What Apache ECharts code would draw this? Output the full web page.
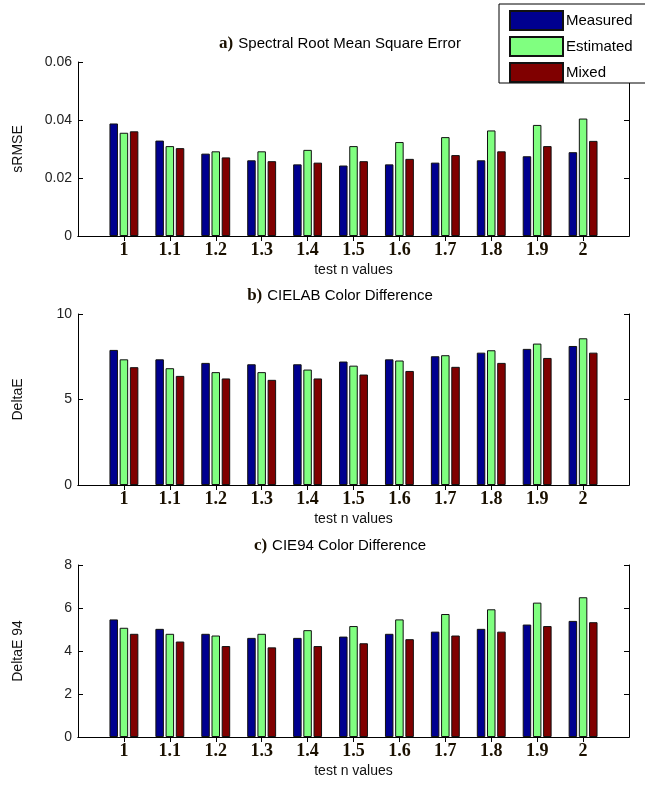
<!DOCTYPE html>
<html>
<head>
<meta charset="utf-8">
<script src="https://cdn.jsdelivr.net/npm/echarts@6/dist/echarts.min.js"></script>
<style>
html, body { margin: 0; padding: 0; background: #fff; }
#main { width: 645px; height: 789px; }
</style>
</head>
<body>
<div id="main"></div>
<script>
// test n values
var categories = ['1', '1.1', '1.2', '1.3', '1.4', '1.5', '1.6', '1.7', '1.8', '1.9', '2'];
var seriesNames = ['Measured', 'Estimated', 'Mixed'];

// a) sRMSE
var srmseMeasured  = [0.0388, 0.0329, 0.0284, 0.0261, 0.0247, 0.0243, 0.0247, 0.0253, 0.0261, 0.0275, 0.0289];
var srmseEstimated = [0.0356, 0.0310, 0.0292, 0.0292, 0.0297, 0.0310, 0.0324, 0.0341, 0.0364, 0.0383, 0.0405];
var srmseMixed     = [0.0361, 0.0303, 0.0271, 0.0258, 0.0253, 0.0258, 0.0266, 0.0279, 0.0292, 0.0310, 0.0328];
var srmseTicks = [0, 0.02, 0.04, 0.06];

// b) CIELAB DeltaE
var labMeasured  = [7.90, 7.35, 7.14, 7.06, 7.06, 7.22, 7.35, 7.53, 7.74, 7.96, 8.13];
var labEstimated = [7.35, 6.83, 6.60, 6.60, 6.75, 6.98, 7.28, 7.59, 7.88, 8.27, 8.58];
var labMixed     = [6.89, 6.38, 6.23, 6.15, 6.23, 6.46, 6.67, 6.91, 7.14, 7.43, 7.74];
var labTicks = [0, 5, 10];

// c) CIE94 DeltaE
var cie94Measured  = [5.47, 5.03, 4.80, 4.61, 4.61, 4.67, 4.80, 4.90, 5.03, 5.23, 5.40];
var cie94Estimated = [5.08, 4.80, 4.72, 4.80, 4.97, 5.16, 5.47, 5.72, 5.94, 6.25, 6.50];
var cie94Mixed     = [4.80, 4.44, 4.23, 4.17, 4.23, 4.36, 4.55, 4.72, 4.90, 5.16, 5.34];
var cie94Ticks = [0, 2, 4, 6, 8];

var colors = ['#00008f', '#80ff80', '#800000'];

// matlab puts bar groups at 1..n with xlim [0, n+1]: pad both ends
function pad(arr, v) { return [v].concat(arr, [v]); }
var padCats = pad(categories, '');

var panels = [
  { title: 'Spectral Root Mean Square Error', tag: 'a)', yName: 'sRMSE', ticks: srmseTicks, data: [srmseMeasured, srmseEstimated, srmseMixed], top: 62, height: 174, titleTop: 35 },
  { title: 'CIELAB Color Difference', tag: 'b)', yName: 'DeltaE', ticks: labTicks, data: [labMeasured, labEstimated, labMixed], top: 314, height: 171, titleTop: 287 },
  { title: 'CIE94 Color Difference', tag: 'c)', yName: 'DeltaE 94', ticks: cie94Ticks, data: [cie94Measured, cie94Estimated, cie94Mixed], top: 565, height: 172, titleTop: 537 }
];

var axisColor = '#000';
var tickInside = function (idx) { return idx > 0 && idx < padCats.length - 1; };

var option = {
  animation: false,
  backgroundColor: '#fff',
  title: [],
  grid: [],
  xAxis: [],
  yAxis: [],
  series: [],
  legend: {
    orient: 'vertical',
    left: 499,
    top: 4,
    icon: 'rect',
    itemWidth: 53,
    itemHeight: 19,
    itemGap: 5,
    padding: [6, 30, 0, 10],
    backgroundColor: '#fff',
    borderColor: '#000',
    borderWidth: 1,
    borderRadius: 0,
    textStyle: { fontFamily: 'Liberation Sans', fontSize: 15, color: '#000', padding: [0, 0, 0, -2] },
    data: seriesNames
  }
};

panels.forEach(function (p, gi) {
  var tks = p.ticks;
  option.title.push({
    text: '{tag|' + p.tag + '} {txt|' + p.title + '}',
    left: 340,
    top: p.titleTop,
    textAlign: 'center',
    padding: 0,
    textStyle: {
      fontWeight: 'normal',
      rich: {
        tag: { fontFamily: 'Liberation Serif', fontWeight: 'bold', fontSize: 17, color: '#1a1000' },
        txt: { fontFamily: 'Liberation Sans', fontWeight: 'normal', fontSize: 15, color: '#000' }
      }
    }
  });
  option.grid.push({ left: 78, top: p.top, width: 551, height: p.height });
  option.xAxis.push({
    type: 'category',
    gridIndex: gi,
    data: padCats,
    boundaryGap: false,
    position: 'bottom',
    axisLine: { lineStyle: { color: axisColor, width: 1 } },
    axisTick: { inside: true, length: 5, interval: tickInside, lineStyle: { color: axisColor } },
    axisLabel: {
      interval: 0, margin: 5,
      fontFamily: 'Liberation Serif', fontWeight: 'bold', fontSize: 18, color: '#1a1000'
    },
    name: 'test n values',
    nameLocation: 'middle',
    nameGap: 27,
    nameTextStyle: { fontFamily: 'Liberation Sans', fontSize: 14, color: '#111' },
    splitLine: { show: false }
  });
  option.xAxis.push({
    type: 'category',
    gridIndex: gi,
    data: padCats,
    boundaryGap: false,
    position: 'top',
    axisLine: { lineStyle: { color: axisColor, width: 1 } },
    axisTick: { inside: true, length: 5, interval: tickInside, lineStyle: { color: axisColor } },
    axisLabel: { show: false },
    splitLine: { show: false }
  });
  var yBase = {
    type: 'value',
    gridIndex: gi,
    min: tks[0],
    max: tks[tks.length - 1],
    interval: tks[1] - tks[0],
    axisLine: { show: true, lineStyle: { color: axisColor, width: 1 } },
    axisTick: { show: true, inside: true, length: 5, lineStyle: { color: axisColor } },
    splitLine: { show: false }
  };
  option.yAxis.push(Object.assign({}, yBase, {
    position: 'left',
    axisLabel: { margin: 6, fontFamily: 'Liberation Sans', fontSize: 14, color: '#222' },
    name: p.yName,
    nameLocation: 'middle',
    nameGap: 53,
    nameTextStyle: { fontFamily: 'Liberation Sans', fontSize: 14, color: '#111' }
  }));
  option.yAxis.push(Object.assign({}, yBase, {
    position: 'right',
    axisLabel: { show: false }
  }));
  p.data.forEach(function (vals, si) {
    option.series.push({
      name: seriesNames[si],
      type: 'bar',
      xAxisIndex: gi * 2,
      yAxisIndex: gi * 2,
      data: pad(vals, null),
      barWidth: 8.5,
      barGap: '20%',
      itemStyle: { color: colors[si], borderColor: '#111', borderWidth: 1 }
    });
  });
});

var chart = echarts.init(document.getElementById('main'), null, { renderer: 'canvas' });
chart.setOption(option);
</script>
</body>
</html>
